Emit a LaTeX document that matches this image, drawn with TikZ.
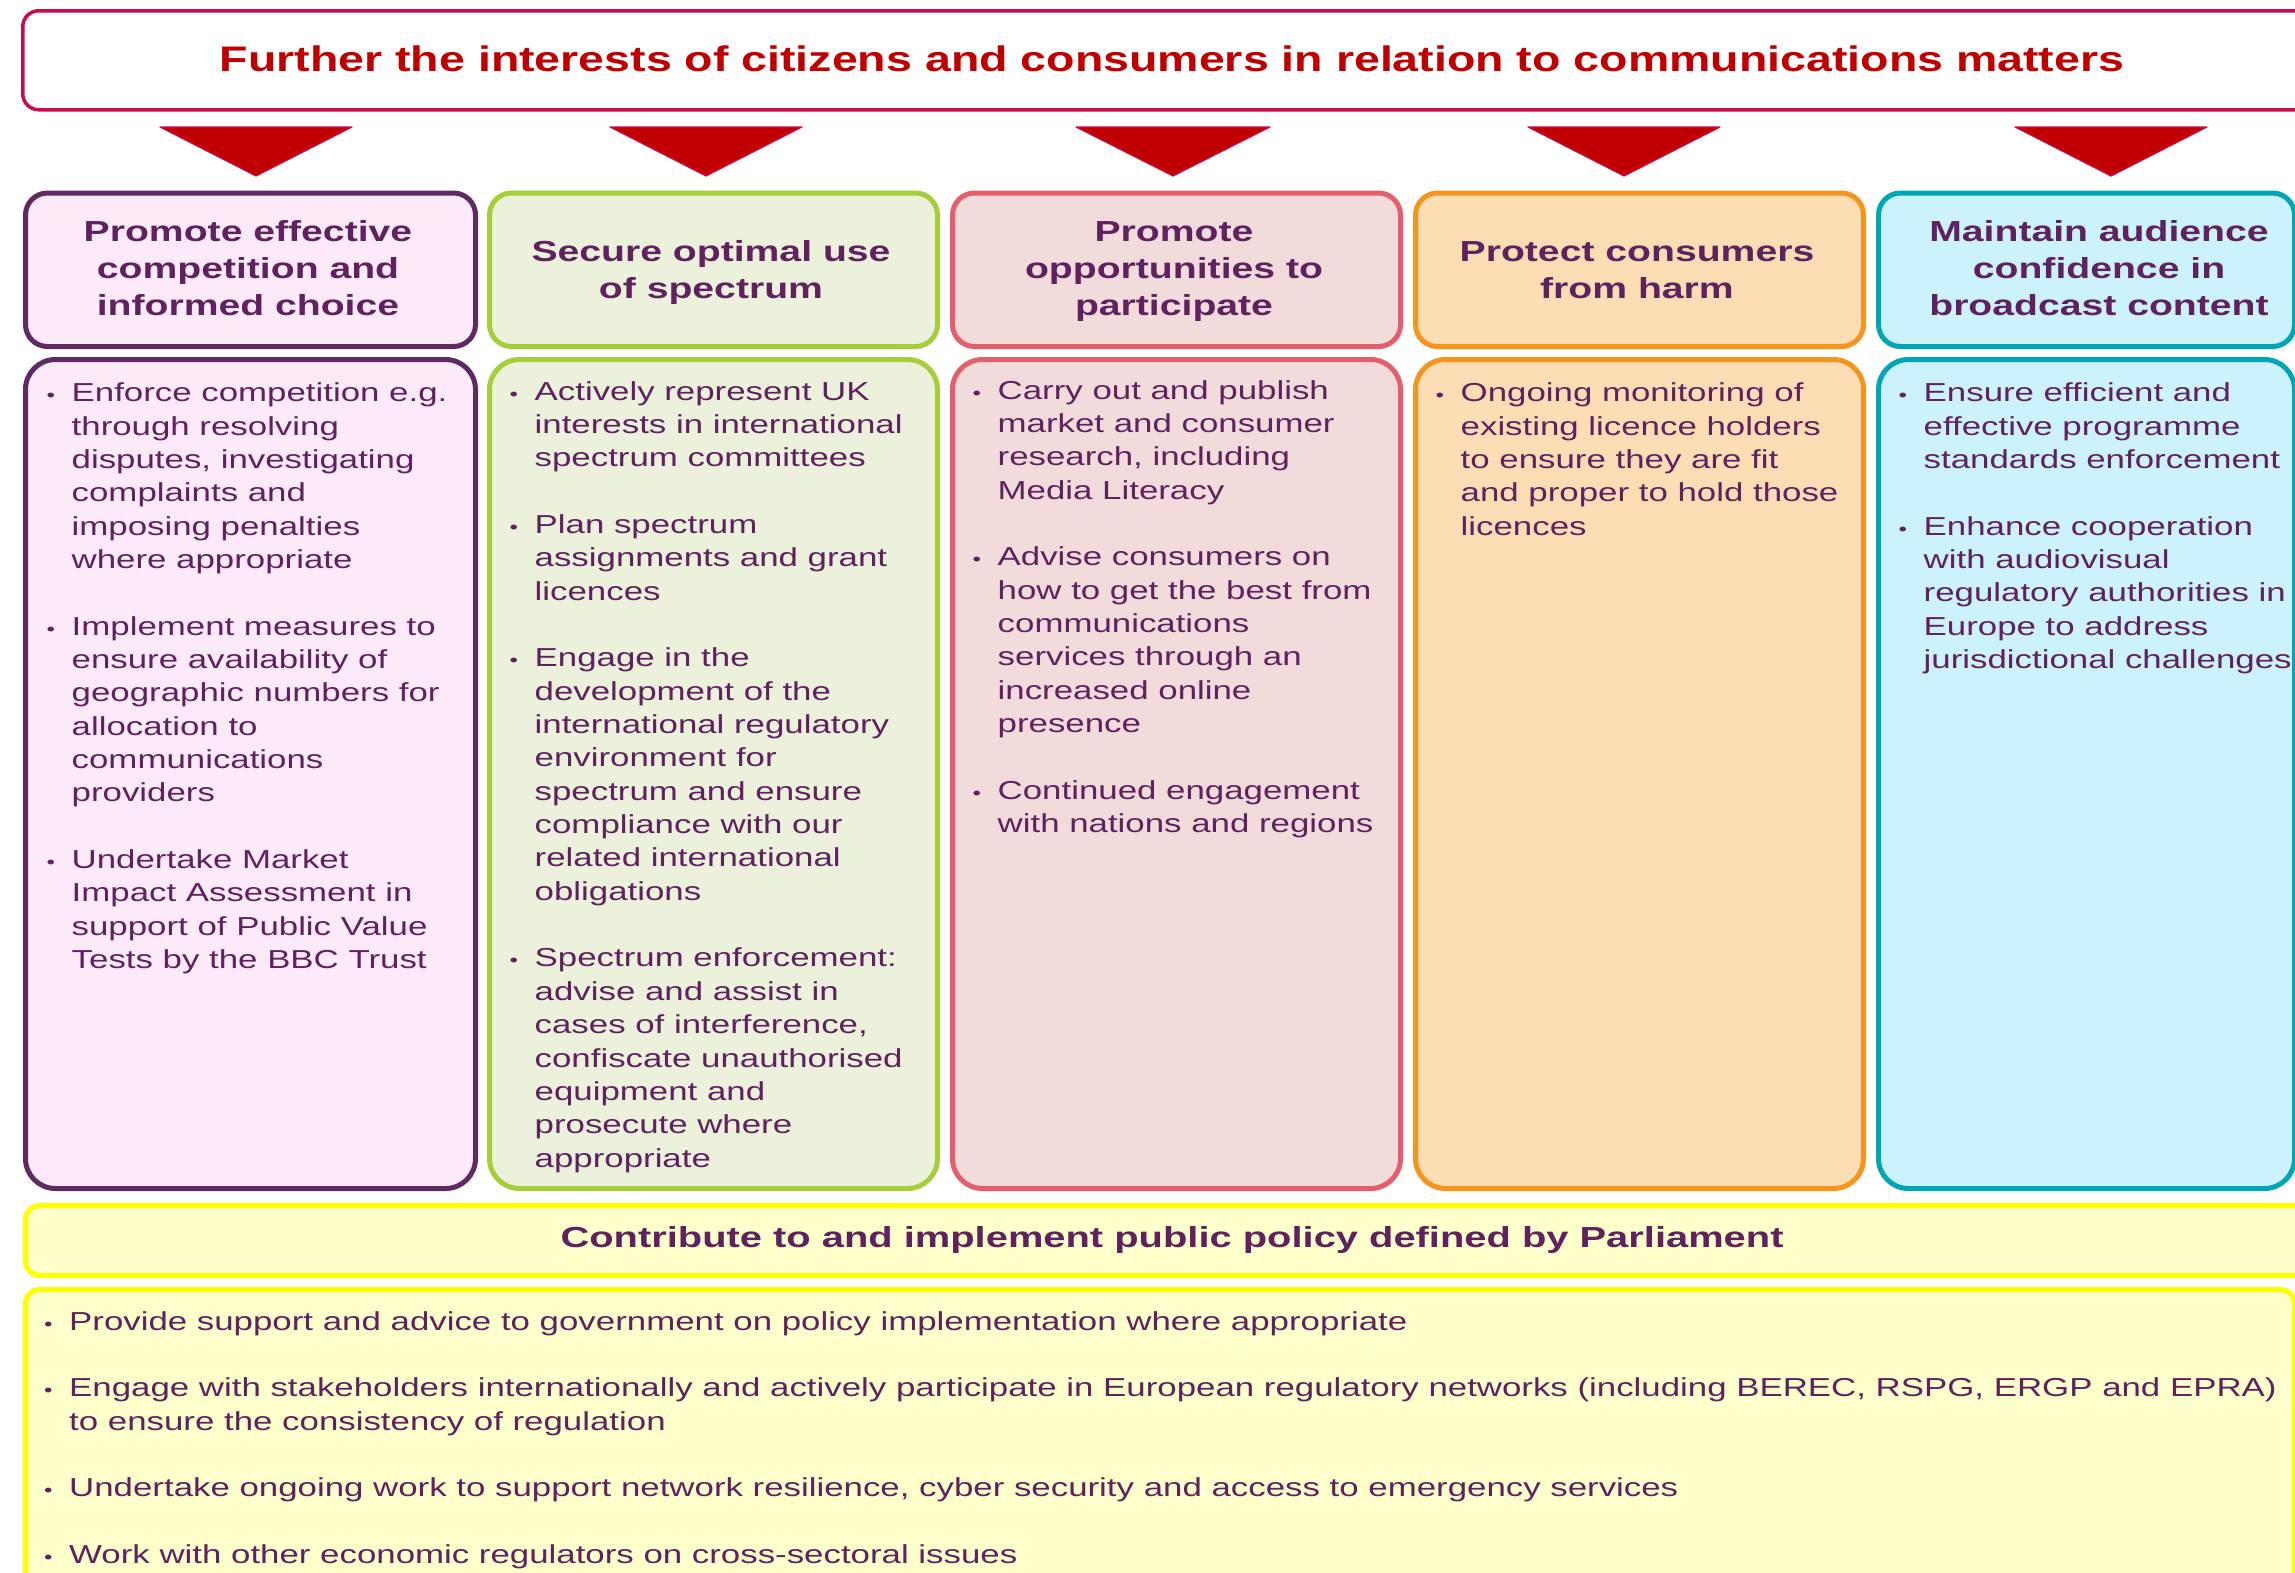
\documentclass[tikz,border=0pt]{standalone}
\usepackage{fontspec}
\setmainfont{Liberation Sans}
\newfontfamily\bodyfont[FakeStretch=1.34]{Liberation Sans}
\newfontfamily\headfont[FakeStretch=1.35]{Liberation Sans}
\newfontfamily\bhfont[FakeStretch=1.375]{Liberation Sans}
\newfontfamily\titlefont[FakeStretch=1.31]{Liberation Sans}
\definecolor{crim}{HTML}{CC0A4B}
\definecolor{tred}{HTML}{C00000}
\definecolor{ptxt}{HTML}{60215F}
\definecolor{c1d}{HTML}{5F2A62}\definecolor{c1f}{HTML}{FCEAF8}
\definecolor{c2d}{HTML}{A6CE39}\definecolor{c2f}{HTML}{EBF1DB}
\definecolor{c3d}{HTML}{E45E6B}\definecolor{c3f}{HTML}{F1DBDB}
\definecolor{c4d}{HTML}{F7941D}\definecolor{c4f}{HTML}{FCDDB4}
\definecolor{c5d}{HTML}{00A6B6}\definecolor{c5f}{HTML}{CCF2FD}
\definecolor{yd}{HTML}{FFFF00}\definecolor{yf}{HTML}{FFFFCC}
\newcommand\mybul{\makebox[25pt][l]{\fontsize{18}{18}\selectfont\textbullet}}
\newcommand\myind{\hspace*{25pt}}
\tikzset{
  hbox/.style={draw, line width=5pt, rounded corners=22pt, inner sep=0pt, anchor=north west, minimum width=448pt, minimum height=153.5pt},
  bbox/.style={draw, line width=5pt, rounded corners=30pt, inner sep=0pt, anchor=north west, minimum width=448pt, minimum height=829pt},
  ybox/.style={draw=yd, fill=yf, line width=5pt, rounded corners=14pt, inner sep=0pt, anchor=north west},
  htext/.style={font=\headfont\bfseries\fontsize{29}{37}\selectfont, text=ptxt, inner sep=0pt, anchor=base},
  btext/.style={font=\bodyfont\fontsize{26}{33.35}\selectfont, text=ptxt, inner sep=0pt, anchor=base west},
  tri/.style={fill=tred, draw=crim, line width=1.2pt, line join=round},
}
\begin{document}
\begin{tikzpicture}[x=1pt,y=-1pt]
\useasboundingbox (0,0) rectangle (2295,1572);
\clip (0,0) rectangle (2295,1572);
\fill[white] (0,0) rectangle (2295,1572);
% top box
\node[draw=crim, line width=3.5pt, rounded corners=16pt, inner sep=0pt, anchor=north west,
      minimum width=2320pt, minimum height=99pt, fill=white] (top) at (21,9) {};
\node[font=\titlefont\bfseries\fontsize{35.5}{40}\selectfont, text=tred, inner sep=0pt, anchor=base] (title) at (1172,71.7)
  {Further the interests of citizens and consumers in relation to communications matters};
% triangles
\coordinate (t1) at (256,176); \coordinate (t2) at (706,176); \coordinate (t3) at (1173,176);
\coordinate (t4) at (1624,176); \coordinate (t5) at (2111,176);
\foreach \c/\l/\r in {t1/160/352, t2/610/802, t3/1076/1270, t4/1528/1720, t5/2015/2207}{
  \draw[tri] (\l,127) -- (\r,127) -- (\c) -- cycle;
}
% header boxes
\node[hbox, draw=c1d, fill=c1f, minimum width=450pt] (h1) at (23,190.5) {};
\node[hbox, draw=c2d, fill=c2f] (h2) at (487,190.5) {};
\node[hbox, draw=c3d, fill=c3f] (h3) at (950,190.5) {};
\node[hbox, draw=c4d, fill=c4f] (h4) at (1413,190.5) {};
\node[hbox, draw=c5d, fill=c5f, minimum width=416pt] (h5) at (1876,190.5) {};
% body boxes
\node[bbox, draw=c1d, fill=c1f, minimum width=450pt] (b1) at (23,357) {};
\node[bbox, draw=c2d, fill=c2f] (b2) at (487,357) {};
\node[bbox, draw=c3d, fill=c3f] (b3) at (950,357) {};
\node[bbox, draw=c4d, fill=c4f] (b4) at (1413,357) {};
\node[bbox, draw=c5d, fill=c5f, minimum width=416pt] (b5) at (1876,357) {};
% header texts
\node[htext] (ht1) at (248,241) {\begin{tabular}[t]{@{}c@{}}Promote effective\\competition and\\informed choice\end{tabular}};
\node[htext] (ht2) at (711,261) {\begin{tabular}[t]{@{}c@{}}Secure optimal use\\of spectrum\end{tabular}};
\node[htext] (ht3) at (1174,241) {\begin{tabular}[t]{@{}c@{}}Promote\\opportunities to\\participate\end{tabular}};
\node[htext] (ht4) at (1637,261) {\begin{tabular}[t]{@{}c@{}}Protect consumers\\from harm\end{tabular}};
\node[htext] (ht5) at (2099,241) {\begin{tabular}[t]{@{}c@{}}Maintain audience\\confidence in\\broadcast content\end{tabular}};
% body texts
\node[btext] (bt1) at (46.5,401.7) {\begin{tabular}[t]{@{}l@{}}
\mybul Enforce competition e.g.\\
\myind through resolving\\
\myind disputes, investigating\\
\myind complaints and\\
\myind imposing penalties\\
\myind where appropriate\\
\\
\mybul Implement measures to\\
\myind ensure availability of\\
\myind geographic numbers for\\
\myind allocation to\\
\myind communications\\
\myind providers\\
\\
\mybul Undertake Market\\
\myind Impact Assessment in\\
\myind support of Public Value\\
\myind Tests by the BBC Trust
\end{tabular}};
\node[btext] (bt2) at (509.5,400) {\begin{tabular}[t]{@{}l@{}}
\mybul Actively represent UK\\
\myind interests in international\\
\myind spectrum committees\\
\\
\mybul Plan spectrum\\
\myind assignments and grant\\
\myind licences\\
\\
\mybul Engage in the\\
\myind development of the\\
\myind international regulatory\\
\myind environment for\\
\myind spectrum and ensure\\
\myind compliance with our\\
\myind related international\\
\myind obligations\\
\\
\mybul Spectrum enforcement:\\
\myind advise and assist in\\
\myind cases of interference,\\
\myind confiscate unauthorised\\
\myind equipment and\\
\myind prosecute where\\
\myind appropriate
\end{tabular}};
\node[btext] (bt3) at (972.5,399) {\begin{tabular}[t]{@{}l@{}}
\mybul Carry out and publish\\
\myind market and consumer\\
\myind research, including\\
\myind Media Literacy\\
\\
\mybul Advise consumers on\\
\myind how to get the best from\\
\myind communications\\
\myind services through an\\
\myind increased online\\
\myind presence\\
\\
\mybul Continued engagement\\
\myind with nations and regions
\end{tabular}};
\node[btext] (bt4) at (1435.5,401.7) {\begin{tabular}[t]{@{}l@{}}
\mybul Ongoing monitoring of\\
\myind existing licence holders\\
\myind to ensure they are fit\\
\myind and proper to hold those\\
\myind licences
\end{tabular}};
\node[btext] (bt5) at (1898.5,401.7) {\begin{tabular}[t]{@{}l@{}}
\mybul Ensure efficient and\\
\myind effective programme\\
\myind standards enforcement\\
\\
\mybul Enhance cooperation\\
\myind with audiovisual\\
\myind regulatory authorities in\\
\myind Europe to address\\
\myind jurisdictional challenges
\end{tabular}};
% bottom
\node[ybox, minimum width=2320pt, minimum height=70pt] (ph) at (23,1203) {};
\node[ybox, minimum width=2269pt, minimum height=400pt] (pb) at (23,1287) {};
\node[htext, font=\bhfont\bfseries\fontsize{29}{37}\selectfont] (pht) at (1172,1247) {Contribute to and implement public policy defined by Parliament};
\node[btext] (pbt) at (44,1330) {\begin{tabular}[t]{@{}l@{}}
\mybul Provide support and advice to government on policy implementation where appropriate\\
\\
\mybul Engage with stakeholders internationally and actively participate in European regulatory networks (including BEREC, RSPG, ERGP and EPRA)\\
\myind to ensure the consistency of regulation\\
\\
\mybul Undertake ongoing work to support network resilience, cyber security and access to emergency services\\
\\
\mybul Work with other economic regulators on cross-sectoral issues
\end{tabular}};
\end{tikzpicture}
\end{document}
